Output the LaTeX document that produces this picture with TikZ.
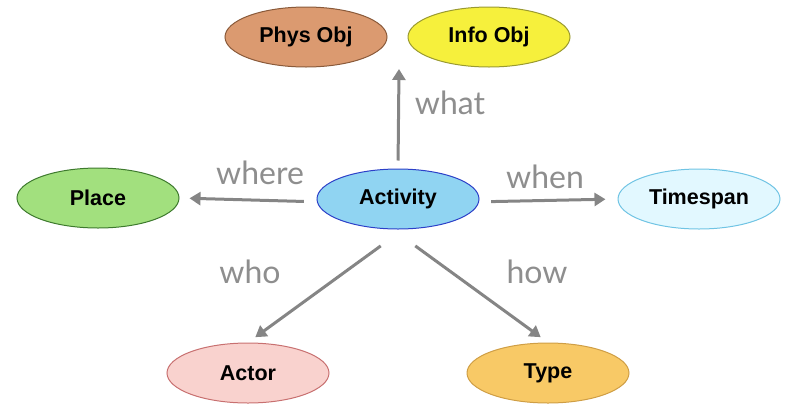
\documentclass[tikz,border=0pt]{standalone}
\usepackage{fontspec}
\usepackage{xcolor}
\usepackage{tikz}
\usetikzlibrary{shapes.geometric,arrows.meta}
\setmainfont{Liberation Sans}
\newfontfamily\lblfont{Lato}

\definecolor{physfill}{HTML}{DB9A70}
\definecolor{physdraw}{HTML}{8A5A3A}
\definecolor{infofill}{HTML}{F6F03C}
\definecolor{infodraw}{HTML}{9A9A30}
\definecolor{placefill}{HTML}{A2E07E}
\definecolor{placedraw}{HTML}{3E7A2E}
\definecolor{actfill}{HTML}{90D4F2}
\definecolor{actdraw}{HTML}{2C40C8}
\definecolor{timefill}{HTML}{E2F8FF}
\definecolor{timedraw}{HTML}{70C4E4}
\definecolor{actorfill}{HTML}{F9D2CE}
\definecolor{actordraw}{HTML}{C87070}
\definecolor{typefill}{HTML}{F8C966}
\definecolor{typedraw}{HTML}{CF9E45}
\definecolor{arrgray}{HTML}{858585}
\definecolor{lblgray}{HTML}{8E8E8E}

\begin{document}
	\begin{tikzpicture}[x=1pt,y=-1pt,
		ent/.style={ellipse,draw,line width=1pt,minimum width=162pt,minimum height=60pt,inner sep=0pt,font=\fontsize{21.5}{23}\selectfont\bfseries},
		arr/.style={draw=arrgray,line width=3pt,-{Triangle[length=11pt,width=13pt]}},
		lbl/.style={text=lblgray,font=\lblfont\fontsize{32}{34}\selectfont}]
		\useasboundingbox (0,0) rectangle (787,405);
		
		\node[ent,fill=physfill,draw=physdraw] (phys) at (306,37) {Phys Obj};
		\node[ent,fill=infofill,draw=infodraw] (info) at (489,37) {Info Obj};
		\node[ent,fill=placefill,draw=placedraw] (place) at (98,198) {Place};
		\node[ent,fill=actfill,draw=actdraw] (act) at (398,199) {Activity};
		\node[ent,fill=timefill,draw=timedraw] (time) at (699,199) {Timespan};
		\node[ent,fill=actorfill,draw=actordraw] (actor) at (248,373) {Actor};
		\node[ent,fill=typefill,draw=typedraw] (type) at (548,373) {Type};
		\coordinate (what) at (399,69);
		
		\draw[arr,shorten <=8pt] (act.north) -- (what);
		\draw[arr,shorten <=13pt,shorten >=10pt] (act.182) -- (place.east);
		\draw[arr,shorten <=12pt,shorten >=12pt] (act.-2) -- (time.west);
		\draw[arr,shorten <=28pt,shorten >=9pt] (act.-80) -- (actor.north);
		\draw[arr,shorten <=28pt,shorten >=9pt] (act.-100) -- (type.north);
		
		\node[lbl] (lwhat) at (450,103) {what};
		\node[lbl] (lwhere) at (260,173) {where};
		\node[lbl] (lwhen) at (545,177) {when};
		\node[lbl] (lwho) at (250,272) {who};
		\node[lbl] (lhow) at (537,272) {how};
	\end{tikzpicture}
\end{document}
